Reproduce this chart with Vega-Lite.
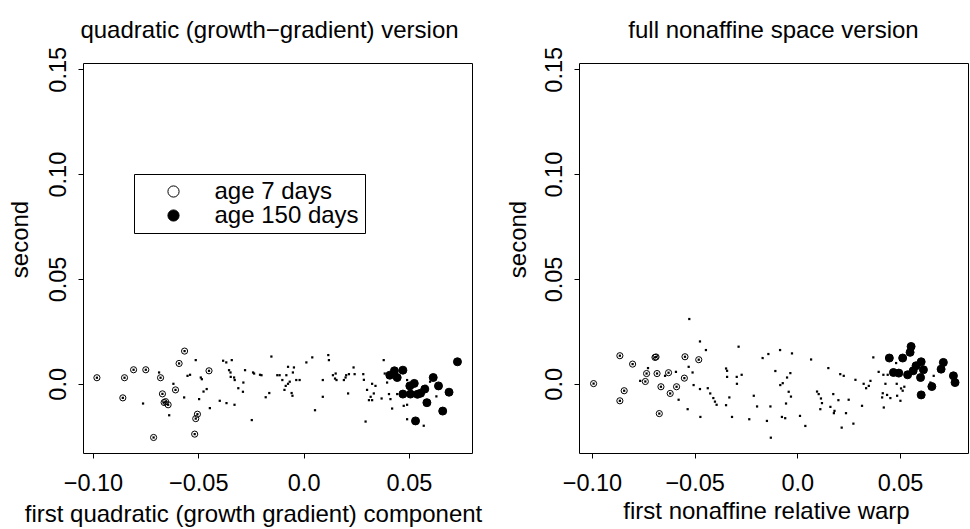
{
  "$schema": "https://vega.github.io/schema/vega-lite/v6.json",
  "autosize": {"type": "pad"},
  "padding": {"left": 7, "top": 18, "right": 3, "bottom": 6},
  "background": "white",
  "bounds": "flush",
  "spacing": 107,
  "config": {
    "font": "Liberation Sans",
    "view": {"stroke": "black", "strokeWidth": 1},
    "axis": {
      "domain": false, "grid": false, "ticks": true, "tickSize": 5, "tickColor": "black", "tickWidth": 1,
      "labelFont": "Liberation Sans", "labelFontSize": 23.5, "labelColor": "black",
      "labelFlush": false, "labelOverlap": false, "labelBound": false,
      "titleFont": "Liberation Sans", "titleFontSize": 24, "titleFontWeight": "normal", "titleColor": "black",
      "titleBaseline": "alphabetic", "titleAlign": "center",
      "labelExpr": "datum.value == 0 ? '0.0' : format(datum.value, '.2f')"
    },
    "axisX": {"labelBaseline": "alphabetic", "labelPadding": 32, "titleAngle": 0},
    "axisY": {"labelAngle": -90, "labelAlign": "center", "labelBaseline": "alphabetic", "labelPadding": 13, "titleAngle": -90}
  },
  "datasets": {
    "left": [
      {"x": -0.0981, "y": 0.0029, "g": "age 7 days"},
      {"x": -0.0850, "y": 0.0029, "g": "age 7 days"},
      {"x": -0.0858, "y": -0.0067, "g": "age 7 days"},
      {"x": -0.0807, "y": 0.0067, "g": "age 7 days"},
      {"x": -0.0749, "y": 0.0067, "g": "age 7 days"},
      {"x": -0.0679, "y": 0.0029, "g": "age 7 days"},
      {"x": -0.0670, "y": -0.0048, "g": "age 7 days"},
      {"x": -0.0662, "y": -0.0089, "g": "age 7 days"},
      {"x": -0.0643, "y": -0.0100, "g": "age 7 days"},
      {"x": -0.0655, "y": -0.0085, "g": "age 7 days"},
      {"x": -0.0608, "y": -0.0029, "g": "age 7 days"},
      {"x": -0.0591, "y": 0.0097, "g": "age 7 days"},
      {"x": -0.0565, "y": 0.0156, "g": "age 7 days"},
      {"x": -0.0449, "y": 0.0062, "g": "age 7 days"},
      {"x": -0.0504, "y": -0.0145, "g": "age 7 days"},
      {"x": -0.0512, "y": -0.0166, "g": "age 7 days"},
      {"x": -0.0712, "y": -0.0256, "g": "age 7 days"},
      {"x": -0.0517, "y": -0.0240, "g": "age 7 days"},
      {"x": 0.0431, "y": 0.0062, "g": "age 150 days"},
      {"x": 0.0471, "y": 0.0065, "g": "age 150 days"},
      {"x": 0.0409, "y": 0.0041, "g": "age 150 days"},
      {"x": 0.0444, "y": 0.0030, "g": "age 150 days"},
      {"x": 0.0504, "y": -0.0010, "g": "age 150 days"},
      {"x": 0.0471, "y": -0.0049, "g": "age 150 days"},
      {"x": 0.0507, "y": -0.0049, "g": "age 150 days"},
      {"x": 0.0531, "y": -0.0177, "g": "age 150 days"},
      {"x": 0.0525, "y": 0.0002, "g": "age 150 days"},
      {"x": 0.0540, "y": -0.0050, "g": "age 150 days"},
      {"x": 0.0555, "y": -0.0045, "g": "age 150 days"},
      {"x": 0.0575, "y": -0.0025, "g": "age 150 days"},
      {"x": 0.0585, "y": -0.0090, "g": "age 150 days"},
      {"x": 0.0615, "y": 0.0030, "g": "age 150 days"},
      {"x": 0.0640, "y": -0.0010, "g": "age 150 days"},
      {"x": 0.0660, "y": -0.0130, "g": "age 150 days"},
      {"x": 0.0690, "y": -0.0040, "g": "age 150 days"},
      {"x": 0.0730, "y": 0.0105, "g": "age 150 days"},
      {"x": -0.0512, "y": 0.0113, "g": "other"},
      {"x": -0.0382, "y": 0.0110, "g": "other"},
      {"x": -0.0367, "y": 0.0102, "g": "other"},
      {"x": -0.0341, "y": 0.0113, "g": "other"},
      {"x": -0.0686, "y": 0.0054, "g": "other"},
      {"x": -0.0551, "y": 0.0038, "g": "other"},
      {"x": -0.0539, "y": 0.0043, "g": "other"},
      {"x": -0.0488, "y": 0.0030, "g": "other"},
      {"x": -0.0483, "y": 0.0022, "g": "other"},
      {"x": -0.0354, "y": 0.0065, "g": "other"},
      {"x": -0.0347, "y": 0.0054, "g": "other"},
      {"x": -0.0346, "y": 0.0033, "g": "other"},
      {"x": -0.0330, "y": 0.0030, "g": "other"},
      {"x": -0.0327, "y": 0.0018, "g": "other"},
      {"x": -0.0278, "y": 0.0065, "g": "other"},
      {"x": -0.0240, "y": 0.0054, "g": "other"},
      {"x": -0.0235, "y": 0.0049, "g": "other"},
      {"x": -0.0286, "y": 0.0006, "g": "other"},
      {"x": -0.0618, "y": 0.0000, "g": "other"},
      {"x": -0.0460, "y": -0.0025, "g": "other"},
      {"x": -0.0475, "y": -0.0037, "g": "other"},
      {"x": -0.0310, "y": -0.0021, "g": "other"},
      {"x": -0.0288, "y": -0.0038, "g": "other"},
      {"x": -0.0567, "y": -0.0065, "g": "other"},
      {"x": -0.0496, "y": -0.0073, "g": "other"},
      {"x": -0.0762, "y": -0.0094, "g": "other"},
      {"x": -0.0398, "y": -0.0081, "g": "other"},
      {"x": -0.0366, "y": -0.0092, "g": "other"},
      {"x": -0.0328, "y": -0.0100, "g": "other"},
      {"x": -0.0445, "y": -0.0116, "g": "other"},
      {"x": -0.0638, "y": -0.0150, "g": "other"},
      {"x": -0.0246, "y": -0.0173, "g": "other"},
      {"x": -0.0207, "y": 0.0043, "g": "other"},
      {"x": -0.0200, "y": 0.0041, "g": "other"},
      {"x": -0.0153, "y": 0.0130, "g": "other"},
      {"x": -0.0125, "y": 0.0041, "g": "other"},
      {"x": -0.0114, "y": 0.0041, "g": "other"},
      {"x": -0.0082, "y": 0.0041, "g": "other"},
      {"x": -0.0074, "y": 0.0081, "g": "other"},
      {"x": -0.0046, "y": 0.0078, "g": "other"},
      {"x": -0.0051, "y": 0.0054, "g": "other"},
      {"x": -0.0101, "y": 0.0018, "g": "other"},
      {"x": -0.0066, "y": 0.0010, "g": "other"},
      {"x": -0.0074, "y": 0.0000, "g": "other"},
      {"x": -0.0085, "y": -0.0010, "g": "other"},
      {"x": -0.0091, "y": -0.0029, "g": "other"},
      {"x": -0.0035, "y": 0.0018, "g": "other"},
      {"x": -0.0019, "y": 0.0018, "g": "other"},
      {"x": -0.0057, "y": -0.0044, "g": "other"},
      {"x": -0.0053, "y": -0.0057, "g": "other"},
      {"x": -0.0163, "y": -0.0044, "g": "other"},
      {"x": -0.0180, "y": -0.0064, "g": "other"},
      {"x": 0.0013, "y": 0.0102, "g": "other"},
      {"x": 0.0041, "y": 0.0126, "g": "other"},
      {"x": 0.0117, "y": 0.0137, "g": "other"},
      {"x": 0.0120, "y": 0.0113, "g": "other"},
      {"x": 0.0091, "y": 0.0018, "g": "other"},
      {"x": 0.0091, "y": -0.0062, "g": "other"},
      {"x": 0.0054, "y": -0.0126, "g": "other"},
      {"x": 0.0139, "y": 0.0041, "g": "other"},
      {"x": 0.0152, "y": 0.0049, "g": "other"},
      {"x": 0.0149, "y": 0.0025, "g": "other"},
      {"x": 0.0156, "y": 0.0018, "g": "other"},
      {"x": 0.0191, "y": 0.0018, "g": "other"},
      {"x": 0.0202, "y": 0.0041, "g": "other"},
      {"x": 0.0215, "y": 0.0046, "g": "other"},
      {"x": 0.0199, "y": 0.0030, "g": "other"},
      {"x": 0.0237, "y": 0.0078, "g": "other"},
      {"x": 0.0242, "y": 0.0046, "g": "other"},
      {"x": 0.0211, "y": -0.0046, "g": "other"},
      {"x": 0.0283, "y": 0.0046, "g": "other"},
      {"x": 0.0286, "y": 0.0019, "g": "other"},
      {"x": 0.0325, "y": 0.0000, "g": "other"},
      {"x": 0.0341, "y": -0.0010, "g": "other"},
      {"x": 0.0301, "y": -0.0029, "g": "other"},
      {"x": 0.0333, "y": -0.0046, "g": "other"},
      {"x": 0.0318, "y": -0.0062, "g": "other"},
      {"x": 0.0310, "y": -0.0078, "g": "other"},
      {"x": 0.0325, "y": -0.0078, "g": "other"},
      {"x": 0.0294, "y": -0.0180, "g": "other"},
      {"x": 0.0380, "y": 0.0113, "g": "other"},
      {"x": 0.0370, "y": -0.0070, "g": "other"},
      {"x": 0.0405, "y": -0.0049, "g": "other"},
      {"x": 0.0412, "y": -0.0073, "g": "other"},
      {"x": 0.0420, "y": -0.0118, "g": "other"},
      {"x": 0.0385, "y": 0.0049, "g": "other"},
      {"x": 0.0396, "y": 0.0006, "g": "other"},
      {"x": 0.0491, "y": -0.0169, "g": "other"},
      {"x": 0.0475, "y": -0.0105, "g": "other"},
      {"x": 0.0491, "y": -0.0100, "g": "other"},
      {"x": 0.0444, "y": -0.0049, "g": "other"},
      {"x": 0.0491, "y": 0.0018, "g": "other"},
      {"x": 0.0570, "y": -0.0200, "g": "other"},
      {"x": 0.0600, "y": 0.0010, "g": "other"},
      {"x": 0.0630, "y": -0.0060, "g": "other"},
      {"x": 0.0580, "y": -0.0010, "g": "other"}
    ],
    "right": [
      {"x": -0.0992, "y": 0.0001, "g": "age 7 days"},
      {"x": -0.0864, "y": 0.0134, "g": "age 7 days"},
      {"x": -0.0802, "y": 0.0094, "g": "age 7 days"},
      {"x": -0.0843, "y": -0.0033, "g": "age 7 days"},
      {"x": -0.0864, "y": -0.0081, "g": "age 7 days"},
      {"x": -0.0693, "y": 0.0126, "g": "age 7 days"},
      {"x": -0.0688, "y": 0.0128, "g": "age 7 days"},
      {"x": -0.0734, "y": 0.0049, "g": "age 7 days"},
      {"x": -0.0683, "y": 0.0049, "g": "age 7 days"},
      {"x": -0.0627, "y": 0.0053, "g": "age 7 days"},
      {"x": -0.0740, "y": 0.0011, "g": "age 7 days"},
      {"x": -0.0664, "y": -0.0014, "g": "age 7 days"},
      {"x": -0.0588, "y": -0.0014, "g": "age 7 days"},
      {"x": -0.0619, "y": -0.0046, "g": "age 7 days"},
      {"x": -0.0550, "y": 0.0027, "g": "age 7 days"},
      {"x": -0.0547, "y": 0.0129, "g": "age 7 days"},
      {"x": -0.0480, "y": 0.0115, "g": "age 7 days"},
      {"x": -0.0672, "y": -0.0142, "g": "age 7 days"},
      {"x": 0.0448, "y": 0.0123, "g": "age 150 days"},
      {"x": 0.0513, "y": 0.0123, "g": "age 150 days"},
      {"x": 0.0554, "y": 0.0178, "g": "age 150 days"},
      {"x": 0.0549, "y": 0.0150, "g": "age 150 days"},
      {"x": 0.0603, "y": 0.0105, "g": "age 150 days"},
      {"x": 0.0578, "y": 0.0086, "g": "age 150 days"},
      {"x": 0.0614, "y": 0.0067, "g": "age 150 days"},
      {"x": 0.0564, "y": 0.0062, "g": "age 150 days"},
      {"x": 0.0468, "y": 0.0054, "g": "age 150 days"},
      {"x": 0.0494, "y": 0.0051, "g": "age 150 days"},
      {"x": 0.0537, "y": 0.0043, "g": "age 150 days"},
      {"x": 0.0600, "y": 0.0030, "g": "age 150 days"},
      {"x": 0.0711, "y": 0.0102, "g": "age 150 days"},
      {"x": 0.0700, "y": 0.0070, "g": "age 150 days"},
      {"x": 0.0760, "y": 0.0038, "g": "age 150 days"},
      {"x": 0.0768, "y": 0.0006, "g": "age 150 days"},
      {"x": 0.0655, "y": -0.0013, "g": "age 150 days"},
      {"x": 0.0603, "y": -0.0053, "g": "age 150 days"},
      {"x": -0.0765, "y": 0.0014, "g": "other"},
      {"x": -0.0727, "y": 0.0075, "g": "other"},
      {"x": -0.0644, "y": 0.0038, "g": "other"},
      {"x": -0.0591, "y": 0.0057, "g": "other"},
      {"x": -0.0526, "y": 0.0309, "g": "other"},
      {"x": -0.0474, "y": 0.0202, "g": "other"},
      {"x": -0.0445, "y": 0.0161, "g": "other"},
      {"x": -0.0529, "y": 0.0081, "g": "other"},
      {"x": -0.0510, "y": 0.0054, "g": "other"},
      {"x": -0.0505, "y": -0.0006, "g": "other"},
      {"x": -0.0474, "y": -0.0025, "g": "other"},
      {"x": -0.0436, "y": -0.0021, "g": "other"},
      {"x": -0.0424, "y": -0.0046, "g": "other"},
      {"x": -0.0409, "y": -0.0068, "g": "other"},
      {"x": -0.0401, "y": -0.0085, "g": "other"},
      {"x": -0.0393, "y": -0.0100, "g": "other"},
      {"x": -0.0578, "y": -0.0076, "g": "other"},
      {"x": -0.0534, "y": -0.0121, "g": "other"},
      {"x": -0.0472, "y": -0.0158, "g": "other"},
      {"x": -0.0347, "y": 0.0073, "g": "other"},
      {"x": -0.0342, "y": 0.0062, "g": "other"},
      {"x": -0.0342, "y": 0.0033, "g": "other"},
      {"x": -0.0295, "y": 0.0033, "g": "other"},
      {"x": -0.0271, "y": 0.0043, "g": "other"},
      {"x": -0.0294, "y": 0.0000, "g": "other"},
      {"x": -0.0286, "y": 0.0177, "g": "other"},
      {"x": -0.0331, "y": -0.0065, "g": "other"},
      {"x": -0.0347, "y": -0.0102, "g": "other"},
      {"x": -0.0318, "y": -0.0158, "g": "other"},
      {"x": -0.0234, "y": -0.0169, "g": "other"},
      {"x": -0.0169, "y": 0.0123, "g": "other"},
      {"x": -0.0141, "y": 0.0142, "g": "other"},
      {"x": -0.0084, "y": 0.0161, "g": "other"},
      {"x": -0.0026, "y": 0.0145, "g": "other"},
      {"x": 0.0067, "y": 0.0116, "g": "other"},
      {"x": -0.0107, "y": 0.0061, "g": "other"},
      {"x": -0.0034, "y": 0.0051, "g": "other"},
      {"x": -0.0050, "y": 0.0030, "g": "other"},
      {"x": -0.0071, "y": 0.0003, "g": "other"},
      {"x": -0.0083, "y": -0.0006, "g": "other"},
      {"x": -0.0042, "y": -0.0038, "g": "other"},
      {"x": -0.0031, "y": -0.0061, "g": "other"},
      {"x": -0.0212, "y": -0.0057, "g": "other"},
      {"x": -0.0196, "y": -0.0108, "g": "other"},
      {"x": -0.0131, "y": -0.0108, "g": "other"},
      {"x": -0.0055, "y": -0.0094, "g": "other"},
      {"x": -0.0148, "y": -0.0177, "g": "other"},
      {"x": -0.0075, "y": -0.0158, "g": "other"},
      {"x": -0.0059, "y": -0.0164, "g": "other"},
      {"x": 0.0013, "y": -0.0153, "g": "other"},
      {"x": 0.0039, "y": -0.0201, "g": "other"},
      {"x": -0.0129, "y": -0.0257, "g": "other"},
      {"x": 0.0096, "y": -0.0037, "g": "other"},
      {"x": 0.0104, "y": -0.0049, "g": "other"},
      {"x": 0.0115, "y": -0.0070, "g": "other"},
      {"x": 0.0120, "y": -0.0092, "g": "other"},
      {"x": 0.0112, "y": -0.0121, "g": "other"},
      {"x": 0.0151, "y": 0.0075, "g": "other"},
      {"x": 0.0175, "y": -0.0049, "g": "other"},
      {"x": 0.0200, "y": -0.0078, "g": "other"},
      {"x": 0.0161, "y": -0.0110, "g": "other"},
      {"x": 0.0181, "y": -0.0129, "g": "other"},
      {"x": 0.0178, "y": -0.0140, "g": "other"},
      {"x": 0.0209, "y": 0.0046, "g": "other"},
      {"x": 0.0226, "y": 0.0038, "g": "other"},
      {"x": 0.0250, "y": -0.0076, "g": "other"},
      {"x": 0.0237, "y": -0.0140, "g": "other"},
      {"x": 0.0216, "y": -0.0209, "g": "other"},
      {"x": 0.0273, "y": -0.0190, "g": "other"},
      {"x": 0.0283, "y": 0.0019, "g": "other"},
      {"x": 0.0315, "y": -0.0105, "g": "other"},
      {"x": 0.0323, "y": 0.0000, "g": "other"},
      {"x": 0.0335, "y": -0.0021, "g": "other"},
      {"x": 0.0348, "y": -0.0010, "g": "other"},
      {"x": 0.0356, "y": 0.0014, "g": "other"},
      {"x": 0.0370, "y": 0.0126, "g": "other"},
      {"x": 0.0396, "y": 0.0057, "g": "other"},
      {"x": 0.0419, "y": 0.0043, "g": "other"},
      {"x": 0.0440, "y": 0.0043, "g": "other"},
      {"x": 0.0429, "y": 0.0000, "g": "other"},
      {"x": 0.0416, "y": -0.0045, "g": "other"},
      {"x": 0.0437, "y": -0.0053, "g": "other"},
      {"x": 0.0413, "y": -0.0065, "g": "other"},
      {"x": 0.0421, "y": -0.0113, "g": "other"},
      {"x": 0.0453, "y": -0.0068, "g": "other"},
      {"x": 0.0486, "y": -0.0057, "g": "other"},
      {"x": 0.0502, "y": -0.0081, "g": "other"},
      {"x": 0.0484, "y": 0.0000, "g": "other"},
      {"x": 0.0505, "y": -0.0022, "g": "other"},
      {"x": 0.0513, "y": -0.0033, "g": "other"},
      {"x": 0.0521, "y": -0.0014, "g": "other"},
      {"x": 0.0481, "y": 0.0099, "g": "other"},
      {"x": 0.0664, "y": 0.0038, "g": "other"},
      {"x": 0.0648, "y": 0.0006, "g": "other"}
    ]
  },
  "resolve": {"scale": {"fill": "independent"}, "legend": {"fill": "independent"}},
  "hconcat": [
    {
      "width": 389,
      "height": 390,
      "data": {"name": "left"},
      "title": {"text": "quadratic (growth−gradient) version", "frame": "group", "anchor": "middle", "dx": -8, "offset": -16, "baseline": "alphabetic", "fontSize": 24, "fontWeight": "normal", "font": "Liberation Sans", "color": "black"},
      "encoding": {
        "x": {"field": "x", "type": "quantitative", "scale": {"domain": [-0.1047, 0.0799], "nice": false, "zero": false},
              "axis": {"values": [-0.1, -0.05, 0, 0.05], "title": "first quadratic (growth gradient) component", "titleX": 170, "titleY": 68}},
        "y": {"field": "y", "type": "quantitative", "scale": {"domain": [-0.033, 0.153], "nice": false, "zero": false},
              "axis": {"values": [0, 0.05, 0.1, 0.15], "title": "second", "titleX": -56, "titleY": 176}}
      },
      "layer": [
        {
          "transform": [{"filter": "datum.g != 'other'"}],
          "mark": {"type": "point", "shape": "circle", "filled": true, "stroke": "black", "strokeWidth": 1, "opacity": 1},
          "encoding": {
            "fill": {"field": "g", "type": "nominal",
                     "scale": {"domain": ["age 7 days", "age 150 days"], "range": ["transparent", "black"]},
                     "legend": {"orient": "none", "legendX": 51, "legendY": 111, "title": null, "symbolType": "circle", "symbolSize": 125,
                                "symbolStrokeColor": "black", "symbolStrokeWidth": 1, "labelFontSize": 24, "labelFont": "Liberation Sans",
                                "labelColor": "black", "strokeColor": "black", "fillColor": "white", "padding": 5.5,
                                "symbolOffset": 22, "labelOffset": 29, "rowPadding": -3.7, "labelLimit": 0}},
            "size": {"condition": {"test": "datum.g == 'age 7 days'", "value": 38}, "value": 64}
          }
        },
        {
          "mark": {"type": "square", "size": 5, "color": "black", "opacity": 1},
          "encoding": {}
        }
      ]
    },
    {
      "width": 389,
      "height": 390,
      "data": {"name": "right"},
      "title": {"text": "full nonaffine space version", "frame": "group", "anchor": "middle", "dx": 0, "offset": -16, "baseline": "alphabetic", "fontSize": 24, "fontWeight": "normal", "font": "Liberation Sans", "color": "black"},
      "encoding": {
        "x": {"field": "x", "type": "quantitative", "scale": {"domain": [-0.1063, 0.0831], "nice": false, "zero": false},
              "axis": {"values": [-0.1, -0.05, 0, 0.05], "title": "first nonaffine relative warp", "titleX": 187, "titleY": 65}},
        "y": {"field": "y", "type": "quantitative", "scale": {"domain": [-0.033, 0.153], "nice": false, "zero": false},
              "axis": {"values": [0, 0.05, 0.1, 0.15], "title": "second", "titleX": -54, "titleY": 176}}
      },
      "layer": [
        {
          "transform": [{"filter": "datum.g != 'other'"}],
          "mark": {"type": "point", "shape": "circle", "filled": true, "stroke": "black", "strokeWidth": 1, "opacity": 1},
          "encoding": {
            "fill": {"field": "g", "type": "nominal",
                     "scale": {"domain": ["age 7 days", "age 150 days"], "range": ["transparent", "black"]},
                     "legend": null},
            "size": {"condition": {"test": "datum.g == 'age 7 days'", "value": 38}, "value": 64}
          }
        },
        {
          "mark": {"type": "square", "size": 5, "color": "black", "opacity": 1},
          "encoding": {}
        }
      ]
    }
  ]
}
